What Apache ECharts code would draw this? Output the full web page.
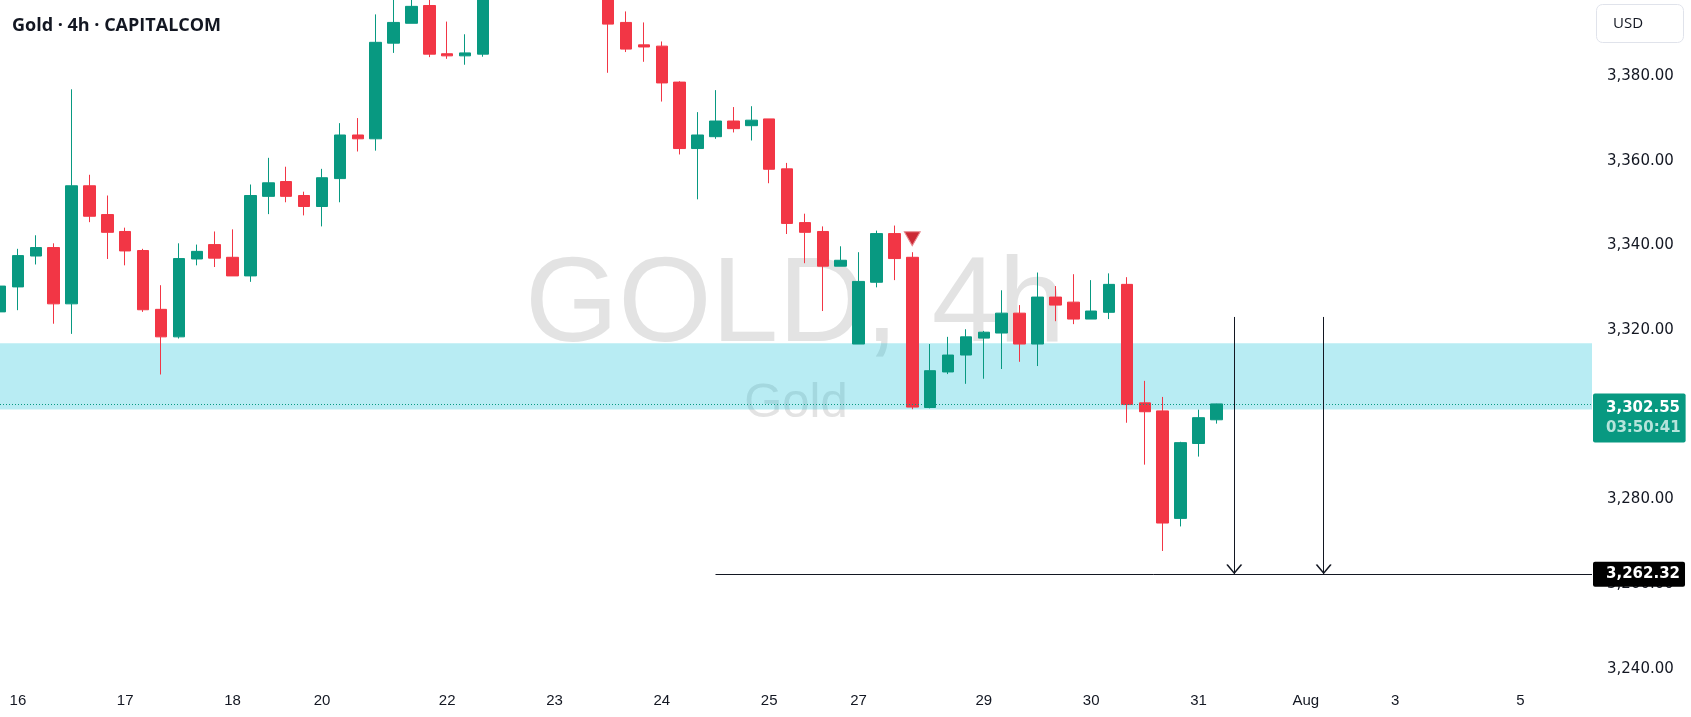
<!DOCTYPE html>
<html>
<head>
<meta charset="utf-8">
<title>Gold 4h</title>
<script src="https://cdn.jsdelivr.net/npm/echarts@6/dist/echarts.min.js"></script>
<style>
    html, body { margin: 0; padding: 0; background: #fff; }
    #main { width: 1691px; height: 717px; }
</style>
</head>
<body>
<div id="main"></div>
<script>
    // 4h bars, index 0 = first bar on screen
    var barCount = 90;
    var labelBars = [1, 7, 13, 18, 25, 31, 37, 43, 48, 55, 61, 67, 73, 78, 85];
    var labelTexts = ['16', '17', '18', '20', '22', '23', '24', '25', '27', '29', '30', '31', 'Aug', '3', '5'];

    var opens = [3324.3, 3330.2, 3337.5, 3339.5, 3326.2, 3354.1, 3347.3, 3343.3, 3338.8, 3324.9,
        3318.4, 3336.8, 3340.2, 3337.2, 3332.8, 3351.6, 3355.1, 3351.8, 3349.2, 3355.8,
        3366.1, 3365.2, 3387.8, 3392.5, 3396.7, 3385.3, 3384.8, 3385.2, 3409, 3416,
        3424, 3430, 3421, 3412, 3404, 3392.7, 3387.4, 3387.1, 3378.6, 3362.9,
        3365.7, 3369.4, 3368.3, 3369.9, 3358.1, 3345.4, 3343.3, 3335.1, 3316.7, 3331.3,
        3342.8, 3337.2, 3301.7, 3310.1, 3314.1, 3318.1, 3319.3, 3324.0, 3316.7, 3327.8,
        3326.6, 3322.6, 3324.2, 3330.8, 3302.8, 3300.9, 3275.5, 3293.2, 3298.8];
    var highs = [3334.4, 3339.2, 3342.4, 3340.5, 3376.9, 3356.7, 3351.8, 3344.2, 3339.2, 3330.6,
        3340.5, 3340.2, 3343.3, 3343.8, 3354.4, 3360.7, 3358.6, 3352.7, 3358.1, 3368.9,
        3370.1, 3394.6, 3399.5, 3401.0, 3400.0, 3392.9, 3389.9, 3412, 3420, 3428,
        3434, 3438, 3425, 3415, 3406, 3395.3, 3392.7, 3388.2, 3378.8, 3371.5,
        3376.7, 3372.7, 3372.9, 3369.9, 3359.5, 3347.5, 3344.5, 3339.8, 3338.4, 3343.5,
        3344.7, 3338.4, 3316.7, 3318.4, 3320.2, 3319.8, 3329.4, 3325.9, 3333.6, 3330.4,
        3333.2, 3331.8, 3333.4, 3332.5, 3308.0, 3304.2, 3293.6, 3301.2, 3302.6];
    var lows = [3323.1, 3324.7, 3335.5, 3321.5, 3319.1, 3345.5, 3336.8, 3335.3, 3324.3, 3309.5,
        3318.0, 3335.3, 3334.9, 3332.8, 3331.4, 3347.4, 3350.2, 3347.1, 3344.5, 3350.2,
        3362.2, 3362.4, 3385.5, 3392.5, 3384.5, 3384.1, 3382.7, 3384.6, 3405, 3412,
        3419, 3417, 3406, 3399, 3380.8, 3385.7, 3383.4, 3374.0, 3361.5, 3350.9,
        3365.2, 3366.7, 3364.8, 3354.7, 3342.7, 3335.8, 3324.5, 3335.1, 3316.7, 3330.1,
        3331.8, 3301.3, 3301.5, 3309.6, 3307.3, 3308.5, 3310.8, 3312.5, 3311.5, 3322.1,
        3321.4, 3322.6, 3322.6, 3298.1, 3288.2, 3267.8, 3273.6, 3290.1, 3297.9];
    var closes = [3330.4, 3337.6, 3339.5, 3326.2, 3354.1, 3346.9, 3343.1, 3338.7, 3324.8, 3318.4,
        3336.9, 3338.6, 3337.0, 3332.8, 3351.8, 3354.8, 3351.6, 3349.2, 3356.0, 3366.1,
        3365.2, 3388.0, 3392.7, 3396.5, 3385.2, 3384.8, 3385.5, 3409, 3416, 3424,
        3430, 3421, 3412, 3404, 3392.3, 3386.4, 3386.9, 3378.4, 3362.9, 3366.1,
        3369.4, 3367.6, 3369.6, 3358.0, 3345.2, 3343.1, 3335.1, 3336.5, 3331.5, 3342.8,
        3336.9, 3301.8, 3310.4, 3314.1, 3318.4, 3319.5, 3324.0, 3316.7, 3327.8, 3325.9,
        3322.6, 3324.5, 3330.8, 3302.4, 3300.7, 3274.4, 3293.4, 3299.3, 3302.55];

    var yMin = 3236.6, yMax = 3398;
    var zone = [3316.9, 3301.25];
    var lastPrice = 3302.55, countdown = '03:50:41';
    var targetPrice = 3262.32, targetLineFrom = 40;
    var arrowBars = [69, 74], arrowTop = 3323.1;
    var signalBar = 51, signalPrice = 3341.6;

    var upColor = '#089981', downColor = '#f23645';

    function fmt(v) {
        return v.toFixed(2).replace(/\B(?=(\d{3})+(?!\d))/g, ',');
    }

    var categories = [];
    for (var i = 0; i < barCount; i++) {
        var k = labelBars.indexOf(i);
        categories.push(k >= 0 ? labelTexts[k] : '');
    }
    var ohlc = opens.map(function (o, i) {
        return [o, closes[i], lows[i], highs[i]];
    });

    var chevron = 'path://M0,10 L5,0 L10,10 L9,10.6 L5,2.2 L1,10.6 Z';
    var arrowLines = arrowBars.map(function (b) {
        return [
            {coord: [b, arrowTop], symbol: 'none'},
            {coord: [b, targetPrice], symbol: chevron, symbolSize: [16, 10], symbolOffset: [0, 5]}
        ];
    });

    var charts = echarts.init(document.getElementById('main'));
    charts.setOption({
        animation: false,
        title: {
            text: 'Gold · 4h · CAPITALCOM',
            left: 7,
            top: 12,
            textStyle: {fontFamily: 'Open Sans', fontWeight: 'bold', fontSize: 18, color: '#131722'}
        },
        grid: {left: 0, right: 99, top: 0, bottom: 34},
        xAxis: {
            type: 'category',
            data: categories,
            boundaryGap: false,
            axisLine: {show: false},
            axisTick: {show: false},
            splitLine: {show: false},
            axisLabel: {
                interval: function (idx, val) { return val !== ''; },
                margin: 10,
                color: '#131722',
                fontFamily: 'Liberation Sans',
                fontSize: 15
            }
        },
        yAxis: {
            type: 'value',
            position: 'right',
            min: yMin,
            max: yMax,
            splitNumber: 8,
            scale: true,
            axisLine: {show: false},
            axisTick: {show: false},
            splitLine: {show: false},
            axisLabel: {
                showMinLabel: false,
                showMaxLabel: false,
                margin: 15,
                padding: [8, 0, 0, 0],
                color: '#131722',
                fontFamily: 'DejaVu Sans',
                fontSize: 15,
                formatter: function (v) { return fmt(v); }
            }
        },
        graphic: [
            {
                type: 'text', z: -1,
                style: {
                    text: 'GOLD, 4h', x: 795, y: 308, align: 'center', verticalAlign: 'middle',
                    font: '120px "Liberation Sans"', fill: '#e3e3e3'
                }
            },
            {
                type: 'text', z: -1,
                style: {
                    text: 'Gold', x: 796, y: 403, align: 'center', verticalAlign: 'middle',
                    font: '49px "Liberation Sans"', fill: '#e3e3e3'
                }
            },
            {
                type: 'rect', z: 5,
                shape: {x: 1596.5, y: 4.5, width: 87, height: 38, r: 6},
                style: {fill: '#fff', stroke: '#e0e3eb', lineWidth: 1}
            },
            {
                type: 'text', z: 6,
                style: {
                    text: 'USD', x: 1613, y: 24, verticalAlign: 'middle',
                    font: '15px "Open Sans"', fill: '#131722'
                }
            }
        ],
        series: [{
            type: 'candlestick',
            data: ohlc,
            barWidth: 12,
            clip: false,
            itemStyle: {
                color: upColor,
                color0: downColor,
                borderColor: upColor,
                borderColor0: downColor,
                borderWidth: 1
            },
            markArea: {
                silent: true,
                itemStyle: {color: 'rgba(0,188,212,0.28)'},
                data: [[{yAxis: zone[0]}, {yAxis: zone[1]}]]
            },
            markLine: {
                silent: true,
                symbol: 'none',
                animation: false,
                label: {show: false},
                lineStyle: {color: '#131722', width: 1, type: 'solid'},
                data: [
                    [
                        {coord: [0, lastPrice], symbol: 'none', lineStyle: {color: upColor, type: [1, 2], width: 1}},
                        {coord: [barCount - 1, lastPrice], symbol: 'none'}
                    ],
                    [
                        {
                            coord: [targetLineFrom, targetPrice], symbol: 'none',
                            label: {
                                show: true, position: 'end', distance: 1,
                                formatter: fmt(targetPrice),
                                backgroundColor: '#000', color: '#fff',
                                fontFamily: 'DejaVu Sans', fontWeight: 'bold', fontSize: 15,
                                padding: [5, 5, 5, 13], borderRadius: 2
                            }
                        },
                        {coord: [barCount - 1, targetPrice], symbol: 'none'}
                    ]
                ].concat(arrowLines)
            },
            markPoint: {
                silent: true,
                animation: false,
                data: [
                    {
                        coord: [signalBar, signalPrice],
                        symbol: 'triangle', symbolRotate: 180, symbolSize: [16, 14],
                        itemStyle: {color: '#cc2a36', borderColor: '#e98a90', borderWidth: 1},
                        label: {show: false}
                    },
                    {
                        coord: [barCount - 1, lastPrice],
                        symbol: 'rect', symbolSize: 0,
                        label: {
                            show: true, position: 'right', distance: 1, offset: [0, 14],
                            formatter: '{p|' + fmt(lastPrice) + '}\n{t|' + countdown + '}',
                            backgroundColor: upColor,
                            padding: [5, 5, 4, 13],
                            borderRadius: 2,
                            rich: {
                                p: {color: '#fff', fontFamily: 'DejaVu Sans', fontWeight: 'bold', fontSize: 15, lineHeight: 20},
                                t: {color: '#b6e4db', fontFamily: 'DejaVu Sans', fontWeight: 'bold', fontSize: 15, lineHeight: 20}
                            }
                        }
                    }
                ]
            }
        }]
    });
</script>
</body>
</html>
